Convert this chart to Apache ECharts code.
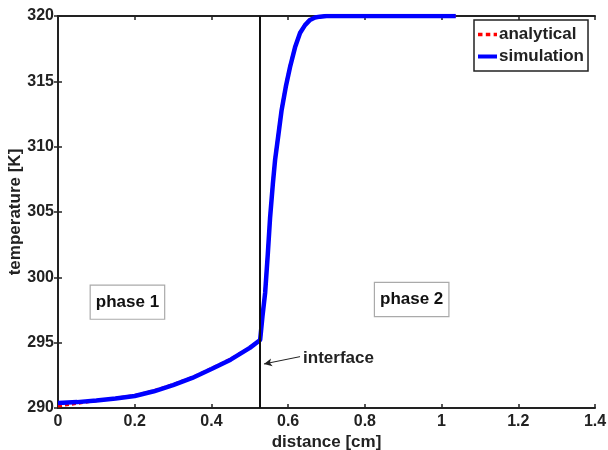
<!DOCTYPE html>
<html>
<head>
<meta charset="utf-8">
<script src="https://cdn.jsdelivr.net/npm/echarts@6/dist/echarts.min.js"></script>
<style>html,body{margin:0;padding:0;background:#fff;}#c{width:608px;height:450px;}</style>
</head>
<body>
<div id="c"></div>
<script>
// Data
var simX = [0, 0.05, 0.1, 0.15, 0.2, 0.25, 0.3, 0.35, 0.4, 0.45, 0.5, 0.527, 0.533, 0.54, 0.547, 0.553, 0.56, 0.566, 0.575, 0.583, 0.594, 0.605, 0.618, 0.631, 0.644, 0.657, 0.67, 0.683, 0.7, 0.75, 0.85, 0.95, 1.037];
var simT = [290.38, 290.45, 290.58, 290.72, 290.92, 291.28, 291.75, 292.3, 292.98, 293.7, 294.6, 295.2, 297.0, 298.8, 301.8, 304.6, 307.1, 309.0, 311.0, 312.8, 314.6, 316.1, 317.6, 318.7, 319.3, 319.7, 319.88, 319.95, 320, 320, 320, 320, 320];
var anaX = [0, 0.05, 0.1, 0.15, 0.2, 0.25, 0.3, 0.35, 0.4, 0.45, 0.5, 0.527, 0.533, 0.54, 0.547, 0.553, 0.56, 0.566, 0.575, 0.583, 0.594, 0.605, 0.618, 0.631, 0.644, 0.657, 0.67, 0.683, 0.7, 0.75, 0.85, 0.95, 1.037];
var anaT = [290.15, 290.35, 290.56, 290.74, 290.96, 291.32, 291.8, 292.34, 293.02, 293.74, 294.62, 295.2, 297.05, 298.9, 301.9, 304.7, 307.2, 309.1, 311.1, 312.9, 314.7, 316.2, 317.65, 318.75, 319.32, 319.72, 319.88, 319.95, 320, 320, 320, 320, 320];
var interfaceX = 0.527;
var xTicks = [0, 0.2, 0.4, 0.6, 0.8, 1, 1.2, 1.4];
var yTicks = [290, 295, 300, 305, 310, 315, 320];
var seriesNames = ['analytical', 'simulation'];
var arrowFrom = [0.631, 293.93];
var arrowTo = [0.537, 293.37];
var labels = [
  {text: 'phase 1', x: 0.181, y: 298.1},
  {text: 'phase 2', x: 0.922, y: 298.3}
];
var interfaceLabel = {text: 'interface', x: 0.639, y: 293.83};

function zip(a, b) { return a.map(function (v, i) { return [v, b[i]]; }); }

var FONT = 'Liberation Sans, Arial, Helvetica, sans-serif';
var chart = echarts.init(document.getElementById('c'), null, {renderer: 'canvas'});

var axisCommon = {
  axisLine: {show: true, lineStyle: {color: '#222', width: 2}},
  axisTick: {show: true, inside: true, length: 4, lineStyle: {color: '#222', width: 1.5}},
  splitLine: {show: false}
};

var option = {
  backgroundColor: '#fff',
  animation: false,
  grid: {left: 58, right: 13, top: 16, bottom: 42, containLabel: false, outerBoundsMode: 'none'},
  legend: {
    data: [
      {name: seriesNames[0], icon: 'path://M0,0h4v3h-4z M7,0h4v3h-4z M14,0h3v3h-3z'},
      {name: seriesNames[1], icon: 'path://M0,0h19v4h-19z'}
    ],
    symbolKeepAspect: true,
    orient: 'vertical',
    left: 474, top: 20,
    padding: [6, 4, 6, 4],
    itemGap: 5,
    itemWidth: 19, itemHeight: 14,
    borderColor: '#222', borderWidth: 1.5,
    backgroundColor: '#fff',
    textStyle: {fontFamily: FONT, fontWeight: 'bold', fontSize: 17, color: '#222', padding: [0, 0, 0, -3]}
  },
  xAxis: [
    Object.assign({
      type: 'value', min: xTicks[0], max: xTicks[xTicks.length - 1], interval: xTicks[1] - xTicks[0],
      name: 'distance [cm]', nameLocation: 'middle', nameGap: 26, nameMoveOverlap: false,
      nameTextStyle: {fontFamily: FONT, fontWeight: 'bold', fontSize: 17, color: '#222'},
      axisLabel: {fontFamily: FONT, fontWeight: 'bold', fontSize: 16, color: '#222', margin: 6}
    }, axisCommon),
    Object.assign({
      type: 'value', position: 'top', min: xTicks[0], max: xTicks[xTicks.length - 1], interval: xTicks[1] - xTicks[0],
      axisLabel: {show: false}
    }, axisCommon)
  ],
  yAxis: [
    Object.assign({
      type: 'value', min: yTicks[0], max: yTicks[yTicks.length - 1], interval: yTicks[1] - yTicks[0],
      name: 'temperature [K]', nameLocation: 'middle', nameGap: 34, nameRotate: 90, nameMoveOverlap: false,
      nameTextStyle: {fontFamily: FONT, fontWeight: 'bold', fontSize: 17, color: '#222'},
      axisLabel: {fontFamily: FONT, fontWeight: 'bold', fontSize: 16, color: '#222', margin: 4}
    }, axisCommon),
    Object.assign({
      type: 'value', position: 'right', min: yTicks[0], max: yTicks[yTicks.length - 1], interval: yTicks[1] - yTicks[0],
      axisLabel: {show: false}
    }, axisCommon)
  ],
  series: [
    {
      name: seriesNames[0], type: 'line', data: zip(anaX, anaT), symbol: 'none', z: 3,
      lineStyle: {color: '#ff0000', width: 3, type: [4, 3]},
      itemStyle: {color: '#ff0000'}
    },
    {
      name: seriesNames[1], type: 'line', data: zip(simX, simT), symbol: 'none', z: 4,
      lineStyle: {color: '#0000ff', width: 4.5},
      itemStyle: {color: '#0000ff'},
      markLine: {
        silent: true, animation: false,
        label: {show: false},
        data: [
          [{coord: [interfaceX, yTicks[0]], symbol: 'none'}, {coord: [interfaceX, yTicks[yTicks.length - 1]], symbol: 'none', lineStyle: {color: '#111', width: 2, type: 'solid'}}],
          [{coord: arrowFrom, symbol: 'none'}, {coord: arrowTo, symbol: 'arrow', symbolSize: [6, 8], lineStyle: {color: '#222', width: 1, type: 'solid'}}]
        ],
        lineStyle: {color: '#111', width: 2, type: 'solid'}
      }
    }
  ]
};
chart.setOption(option);

function buildGraphics() {
  var g = [];
  labels.forEach(function (l) {
    var p = chart.convertToPixel({xAxisIndex: 0, yAxisIndex: 0}, [l.x, l.y]);
    g.push({
      type: 'text', x: p[0], y: p[1], z: 10,
      style: {
        text: l.text, fontFamily: FONT, fontWeight: 'bold', fontSize: 17, fill: '#111',
        align: 'center', verticalAlign: 'middle',
        backgroundColor: '#fff', borderColor: '#aaa', borderWidth: 1.2, padding: [8, 5, 8, 5]
      }
    });
  });
  var q = chart.convertToPixel({xAxisIndex: 0, yAxisIndex: 0}, [interfaceLabel.x, interfaceLabel.y]);
  g.push({
    type: 'text', x: q[0], y: q[1], z: 10,
    style: {text: interfaceLabel.text, fontFamily: FONT, fontWeight: 'bold', fontSize: 17, fill: '#222', align: 'left', verticalAlign: 'middle'}
  });
  chart.setOption({graphic: g});
}
buildGraphics();
</script>
</body>
</html>
